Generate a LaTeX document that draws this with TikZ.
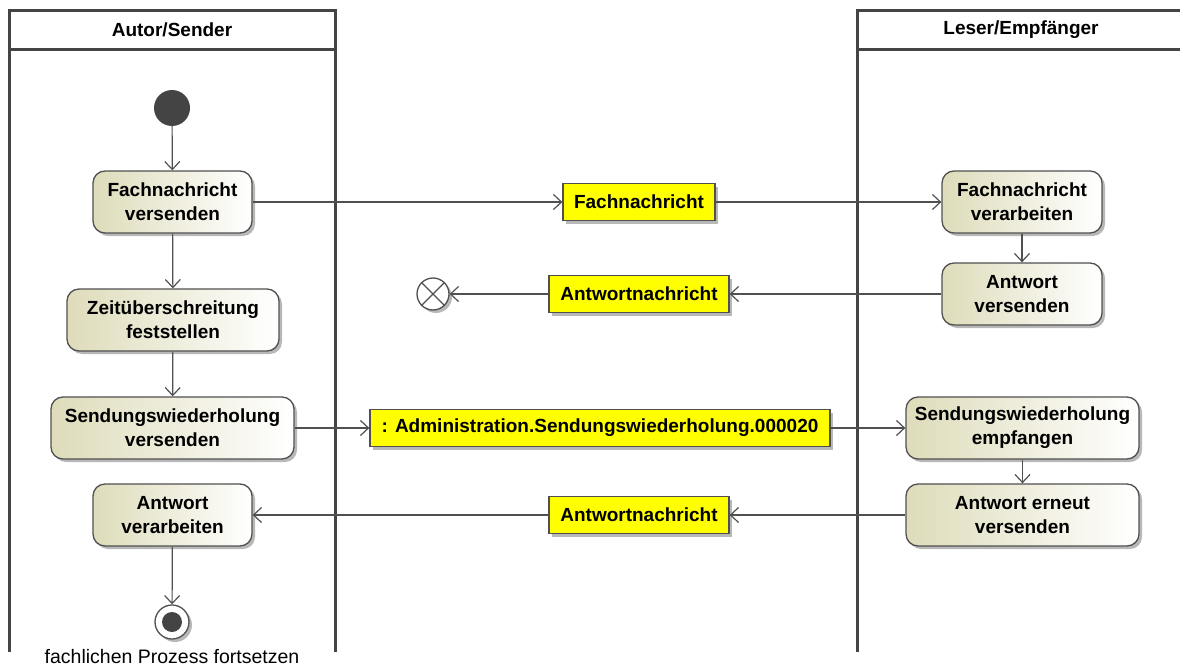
\documentclass[tikz,border=0pt]{standalone}
\usepackage{fontspec}
\setmainfont{Liberation Sans}
\usetikzlibrary{arrows.meta,shadows}
\definecolor{lane}{RGB}{68,68,68}
\definecolor{edge}{RGB}{80,80,80}
\definecolor{actl}{RGB}{222,220,186}
\definecolor{objy}{RGB}{255,255,0}
\tikzset{
  act/.style={draw=edge, line width=1.3pt, rounded corners=12pt, left color=actl, right color=white,
    minimum height=62pt, align=center, inner sep=0pt,
    font=\fontsize{19}{24}\selectfont\bfseries,
    drop shadow={shadow xshift=3pt, shadow yshift=-3pt, fill=black!35, opacity=0.8}},
  obj/.style={draw=edge, line width=1.3pt, fill=objy, minimum height=37pt, inner sep=0pt,
    font=\fontsize{19}{24}\selectfont\bfseries,
    drop shadow={shadow xshift=3pt, shadow yshift=-3pt, fill=black!35, opacity=0.8}},
  flow/.style={draw=edge, line width=1.2pt, -{Straight Barb[length=8pt,width=15pt,line width=1.2pt]}},
  lanel/.style={draw=lane, line width=3pt},
  hdr/.style={font=\fontsize{19}{22}\selectfont\bfseries},
}
\begin{document}
\begin{tikzpicture}[x=1pt,y=-1pt]
\useasboundingbox (0,0) rectangle (1180,666);
% swimlanes
\draw[lanel] (9,652) -- (9,11) -- (335,11) -- (335,652);
\draw[lanel] (9,50) -- (335,50);
\node[hdr] (h1) at (172,30) {Autor/Sender};
\draw[lanel] (857,652) -- (857,11) -- (1185,11);
\draw[lanel] (857,50) -- (1185,50);
\node[hdr] (h2) at (1021,30) {Leser/Empfänger};
% start
\node[circle, fill=lane, minimum size=36pt, inner sep=0pt] (start) at (172,108) {};
% left activities
\node[act, minimum width=159pt] (fv) at (172.5,202) {Fachnachricht\\versenden};
\node[act, minimum width=212pt] (zf) at (173,320) {Zeitüberschreitung\\feststellen};
\node[act, minimum width=243pt] (sv) at (172.5,428) {Sendungswiederholung\\versenden};
\node[act, minimum width=159pt] (av) at (172.5,515) {Antwort\\verarbeiten};
% end
\node[circle, draw=edge, line width=1.3pt, fill=white, minimum size=34pt, inner sep=0pt,
  drop shadow={shadow xshift=3pt, shadow yshift=-3pt, fill=black!35, opacity=0.8}] (end) at (172,622) {};
\node[circle, fill=lane, minimum size=20pt, inner sep=0pt] (endin) at (end) {};
\node[font=\fontsize{19.5}{22}\selectfont, inner sep=0pt, anchor=base] (endlbl) at (172,663) {fachlichen Prozess fortsetzen};
% right activities
\node[act, minimum width=160pt] (fva) at (1022,202) {Fachnachricht\\verarbeiten};
\node[act, minimum width=160pt] (avs) at (1022,294) {Antwort\\versenden};
\node[act, minimum width=233pt] (se) at (1022.5,428) {Sendungswiederholung\\empfangen};
\node[act, minimum width=233pt] (ae) at (1022.5,515) {Antwort erneut\\versenden};
% objects
\node[obj, minimum width=152pt] (o1) at (639,202) {Fachnachricht};
\node[obj, minimum width=180pt] (o2) at (639,294) {Antwortnachricht};
\node[obj, minimum width=460pt] (o3) at (600,428) {: Administration.Sendungswiederholung.000020};
\node[obj, minimum width=180pt] (o4) at (639,515) {Antwortnachricht};
% flow final
\node[circle, draw=edge, line width=1.3pt, fill=white, minimum size=32pt, inner sep=0pt,
  drop shadow={shadow xshift=3pt, shadow yshift=-3pt, fill=black!35, opacity=0.8}] (ff) at (433,294) {};
\draw[edge, line width=1.3pt] (ff.north west) -- (ff.south east) (ff.north east) -- (ff.south west);
% edges
\draw[flow] (start) -- (fv);
\draw[flow] (fv) -- (zf);
\draw[flow] (zf) -- (sv);
\draw[flow] (av) -- (end);
\draw[flow] (fv) -- (o1);
\draw[flow] (o1) -- (fva);
\draw[flow] (fva) -- (avs);
\draw[flow] (avs) -- (o2);
\draw[flow] (o2) -- (ff);
\draw[flow] (sv) -- (o3);
\draw[flow] (o3) -- (se);
\draw[flow] (se) -- (ae);
\draw[flow] (ae) -- (o4);
\draw[flow] (o4) -- (av);
\end{tikzpicture}
\end{document}
